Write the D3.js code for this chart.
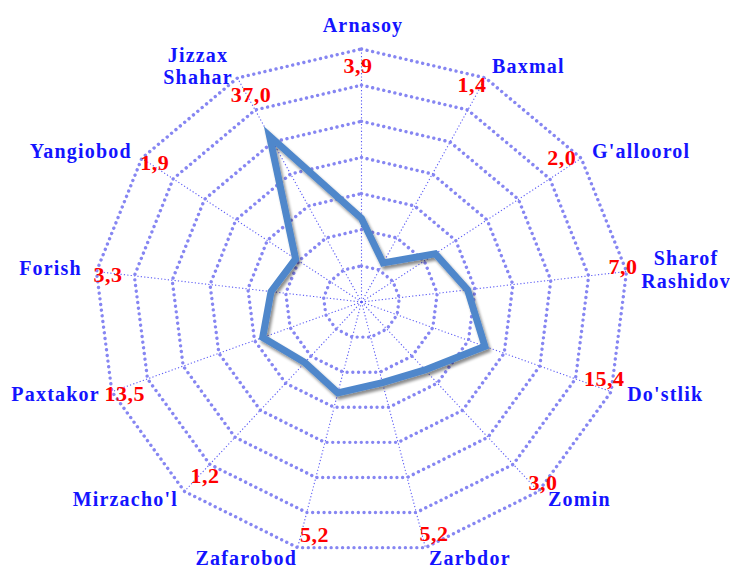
<!DOCTYPE html>
<html>
<head>
<meta charset="utf-8">
<script src="https://cdn.jsdelivr.net/npm/d3@7"></script>
<style>
  html, body { margin: 0; padding: 0; background: #ffffff; }
  svg { display: block; }
  .name { font-family: "Liberation Serif", "Times New Roman", serif; font-weight: bold; font-size: 20px; fill: #1414ff; letter-spacing: 1.2px; }
  .share { font-family: "Liberation Serif", "Times New Roman", serif; font-weight: bold; font-size: 22px; fill: #ff0000; letter-spacing: 0.5px; }
</style>
</head>
<body>
<svg id="chart" width="730" height="568"></svg>
<script>
// Districts around the radar, clockwise from the top
const districts = [
  ["Arnasoy"], ["Baxmal"], ["G'alloorol"], ["Sharof", "Rashidov"], ["Do'stlik"],
  ["Zomin"], ["Zarbdor"], ["Zafarobod"], ["Mirzacho'l"], ["Paxtakor"],
  ["Forish"], ["Yangiobod"], ["Jizzax", "Shahar"]
];

// Plotted indicator for each district
const values = [23.1, 12.2, 23.5, 28.0, 34.6, 25.1, 23.0, 25.9, 22.4, 27.7, 23.9, 21.0, 51.9];

// Share of each district, %
const shares = [3.9, 1.4, 2.0, 7.0, 15.4, 3.0, 5.2, 5.2, 1.2, 13.5, 3.3, 1.9, 37.0];

// Radial gridline levels
const gridLevels = [10, 20, 30, 40, 50, 60, 70];

// Label placement relative to each outer vertex: [dx, dy, anchor]
const nameOffsets = [
  [1.5, -17, "middle"], [6.4, -5, "start"], [10.8, 0, "start"], [59.5, -6.5, "middle"],
  [16, 9.3, "start"], [9.5, 14.6, "start"], [3.6, 17.4, "start"], [-0.6, 17.4, "end"],
  [-6.5, 14.6, "end"], [-12, 9.3, "end"], [-14.5, 3.5, "end"], [-10, 0, "end"],
  [-39.4, -16, "middle"]
];
const shareOffsets = [
  [-3.5, 24], [-13.6, 14], [-19.5, 6.7], [-3.5, 2.5], [-7, -5.7], [4.5, -1.4], [8.6, -6.6],
  [17, -5.6], [20.5, -8.4], [13, 9.3], [11.5, 10.5], [13, 11.7], [13.6, 24]
];

const svg = d3.select("#chart");
const cx = 361.5, cy = 302;
const rx = 267, ry = 253;
const n = districts.length;

const angle = d3.scaleLinear().domain([0, n]).range([0, 2 * Math.PI]);
const rX = d3.scaleLinear().domain([0, 70]).range([0, rx]);
const rY = d3.scaleLinear().domain([0, 70]).range([0, ry]);

const px = (i, v) => cx + rX(v) * Math.sin(angle(i));
const py = (i, v) => cy - rY(v) * Math.cos(angle(i));

const idx = d3.range(n);
const closedPath = d3.line().curve(d3.curveLinearClosed);

const defs = svg.append("defs");
const shadow = defs.append("filter").attr("id", "shadow")
  .attr("x", "-20%").attr("y", "-20%").attr("width", "140%").attr("height", "140%");
shadow.append("feGaussianBlur").attr("in", "SourceAlpha").attr("stdDeviation", 1.6).attr("result", "b");
shadow.append("feOffset").attr("in", "b").attr("dx", 2).attr("dy", 2.5).attr("result", "o");
shadow.append("feComponentTransfer").attr("in", "o").attr("result", "s")
  .append("feFuncA").attr("type", "linear").attr("slope", 0.45);
const merge = shadow.append("feMerge");
merge.append("feMergeNode").attr("in", "s");
merge.append("feMergeNode").attr("in", "SourceGraphic");

// Spokes
svg.append("g").selectAll("line").data(idx).join("line")
  .attr("x1", cx).attr("y1", cy)
  .attr("x2", i => px(i, 70)).attr("y2", i => py(i, 70))
  .attr("stroke", "#5a5af5").attr("stroke-width", 1.1)
  .attr("stroke-dasharray", "1.2 2.2");

// Ring polygons
svg.append("g").selectAll("path").data(gridLevels).join("path")
  .attr("d", lv => closedPath(idx.map(i => [px(i, lv), py(i, lv)])))
  .attr("fill", "none")
  .attr("stroke", "#8686f2").attr("stroke-width", 3.4)
  .attr("stroke-linecap", "round")
  .attr("stroke-dasharray", "0.01 5.7");

// Data polygon
svg.append("path")
  .attr("d", closedPath(values.map((v, i) => [px(i, v), py(i, v)])))
  .attr("fill", "none")
  .attr("stroke", "#4f87cb").attr("stroke-width", 7)
  .attr("stroke-linejoin", "miter").attr("stroke-miterlimit", 10)
  .attr("filter", "url(#shadow)");

// Share labels
svg.append("g").selectAll("text").data(idx).join("text")
  .attr("class", "share")
  .attr("x", i => px(i, 70) + shareOffsets[i][0])
  .attr("y", i => py(i, 70) + shareOffsets[i][1])
  .attr("text-anchor", "middle")
  .text(i => d3.format(".1f")(shares[i]).replace(".", ","));

// District names
const names = svg.append("g").selectAll("text").data(idx).join("text")
  .attr("class", "name")
  .attr("text-anchor", i => nameOffsets[i][2])
  .attr("x", i => px(i, 70) + nameOffsets[i][0])
  .attr("y", i => py(i, 70) + nameOffsets[i][1]);
names.selectAll("tspan").data(i => districts[i].map(t => ({ t, i }))).join("tspan")
  .attr("x", d => px(d.i, 70) + nameOffsets[d.i][0])
  .attr("dy", (d, k) => k === 0 ? 0 : 22.5)
  .text(d => d.t);
</script>
</body>
</html>
